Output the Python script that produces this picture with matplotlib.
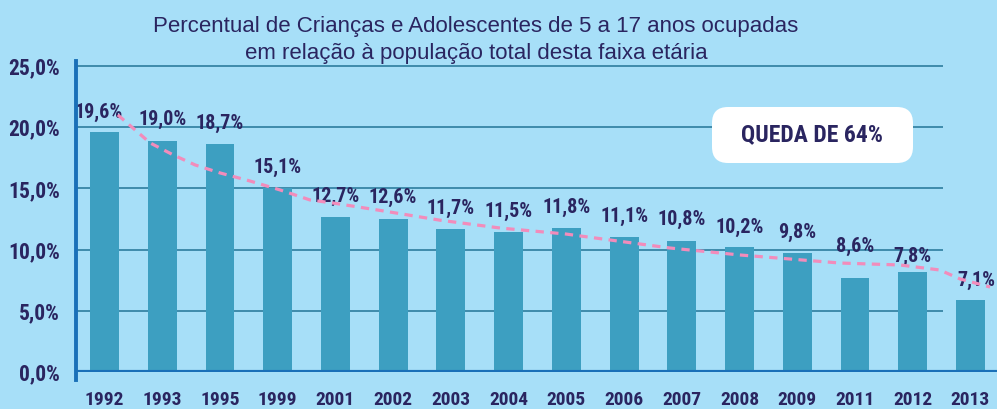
import numpy as np
import matplotlib
matplotlib.use("Agg")
import matplotlib.pyplot as plt
from matplotlib.patches import FancyBboxPatch
from matplotlib.transforms import IdentityTransform
from matplotlib import font_manager

# --- data
anos = ["1992", "1993", "1995", "1999", "2001", "2002", "2003", "2004",
        "2005", "2006", "2007", "2008", "2009", "2011", "2012", "2013"]
barras = [19.6, 18.9, 18.6, 15.0, 12.7, 12.5, 11.7, 11.4,
          11.8, 11.0, 10.7, 10.2, 9.7, 7.7, 8.2, 5.9]
rotulos = [19.6, 19.0, 18.7, 15.1, 12.7, 12.6, 11.7, 11.5,
           11.8, 11.1, 10.8, 10.2, 9.8, 8.6, 7.8, 7.1]
# dashed trend, (category position, value)
tend_x = [0.23, 0.53, 0.79, 1.19, 1.57, 2.0, 2.52, 3.04, 3.56, 3.96, 4.77,
          5.81, 6.85, 7.99, 8.76, 9.79, 11.0, 11.87, 12.74, 13.78, 14.47,
          14.82, 15.34]
tend_y = [21.0, 19.77, 18.71, 17.73, 16.91, 16.26, 15.6, 14.87, 14.05, 13.8,
          13.2, 12.4, 11.76, 11.27, 10.78, 10.13, 9.56, 9.23, 8.9, 8.74, 8.33,
          7.6, 6.94]
yticks = [0, 5, 10, 15, 20, 25]

# --- colours / fonts
BG = "#a7dff8"
BAR = "#3d9fc1"
TXT = "#2a2560"
GRID = "#3785a5"
AXIS = "#1a70b8"
PINK = "#f28cbb"
SANS = ["Liberation Sans", "DejaVu Sans"]

# pick a condensed face if one is installed
nomes = sorted({f.name for f in font_manager.fontManager.ttflist})
narrow = None
for cand in ["Liberation Sans Narrow", "Roboto Condensed", "Open Sans Condensed",
             "DejaVu Sans Condensed", "Noto Sans Condensed"]:
    if cand in nomes:
        narrow = cand
        break
if narrow is None:
    cond = [f.name for f in font_manager.fontManager.ttflist
            if "condensed" in str(f.stretch) or "Narrow" in f.name
            or "Condensed" in f.name]
    narrow = cond[0] if cond else "Liberation Sans"
NARROW = [narrow, "DejaVu Sans"]

fig = plt.figure(figsize=(9.97, 4.09), dpi=100, facecolor=BG)
ax = fig.add_axes([76 / 997, 37 / 409, 1 - 76 / 997, 311 / 409])
ax.set_facecolor(BG)

x = np.arange(len(anos))
ax.bar(x, barras, width=0.5, color=BAR, zorder=2)

ax.set_xlim(-0.494, 15.46)
ax.set_ylim(0, 25.4)

# gridlines stop short of the last bar, like the reference
ax.hlines(yticks[1:], -0.494, 14.52, colors=GRID, linewidth=1.3, zorder=1)

# labels above bars
for i, v in enumerate(rotulos):
    dy = 14.4
    dx = 0
    if i == 0:
        dx = -4
    if i == len(rotulos) - 1:
        dy = 3
        dx = 4
    ax.annotate(f"{v:.1f}%".replace(".", ","), (x[i], v), xytext=(dx, dy),
                textcoords="offset points", ha="center", va="center",
                fontsize=14.5, fontweight="bold", color=TXT, family=NARROW,
                stretch="condensed", zorder=4)

ax.plot(tend_x, tend_y, color=PINK, linestyle=(0, (2.6, 2.0)), linewidth=2.3,
        zorder=5, clip_on=False)

# axes
for s in ["top", "right", "bottom", "left"]:
    ax.spines[s].set_visible(False)
ax.axhline(0, color=AXIS, linewidth=3, zorder=6)
ax.plot([0, 0], [-0.025, 1.0], transform=ax.transAxes, color=AXIS,
        linewidth=2.8, clip_on=False, zorder=6)

ax.set_yticks(yticks)
ax.set_yticklabels([f"{t:.1f}%".replace(".", ",") for t in yticks])
ax.set_xticks(x)
ax.set_xticklabels(anos)
ax.tick_params(axis="both", length=0, colors=TXT)
ax.tick_params(axis="y", pad=11.5, labelsize=15.5)
ax.tick_params(axis="x", pad=14, labelsize=14)
for lab in ax.get_xticklabels() + ax.get_yticklabels():
    lab.set_fontweight("bold")
    lab.set_family(NARROW)
    lab.set_stretch("condensed")

# title
fig.text(476 / 997, 1 - 40 / 409,
         "Percentual de Crianças e Adolescentes de 5 a 17 anos ocupadas\n"
         "em relação à população total desta faixa etária",
         ha="center", va="center", fontsize=16, color=TXT, family=SANS,
         linespacing=1.35)

# highlight box (pixel coordinates, origin bottom-left)
box = FancyBboxPatch((712, 409 - 163), 201, 56,
                     boxstyle="round,pad=0,rounding_size=16",
                     transform=IdentityTransform(), facecolor="white",
                     edgecolor="none", zorder=10)
fig.patches.append(box)
fig.text(812 / 997, 1 - 135 / 409, "QUEDA DE 64%", ha="center", va="center",
         fontsize=17, fontweight="bold", color=TXT, family=NARROW,
         stretch="condensed", zorder=11)

fig.savefig("out.png", dpi=100, facecolor=BG)
